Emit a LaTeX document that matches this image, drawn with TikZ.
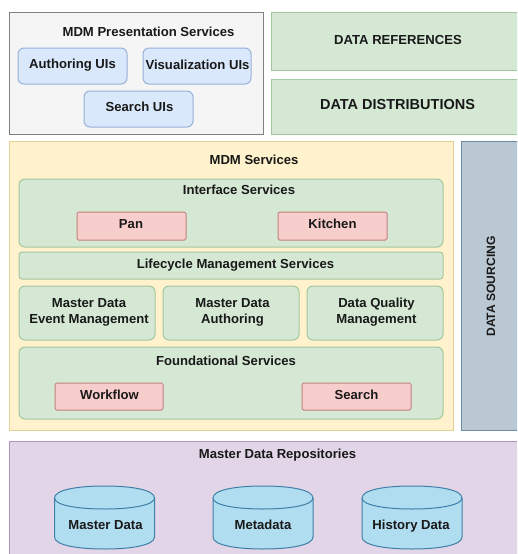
\documentclass[tikz,border=0pt]{standalone}
\usepackage{fontspec}
\setmainfont{Liberation Sans}
\definecolor{pgrey}{HTML}{F5F5F5}
\definecolor{pgreen}{HTML}{D5E8D4}
\definecolor{pgreenl}{HTML}{A3C79F}
\definecolor{pyellow}{HTML}{FFF2CC}
\definecolor{pyellowl}{HTML}{E6CF97}
\definecolor{pslate}{HTML}{BAC8D3}
\definecolor{pslatel}{HTML}{6D8AA3}
\definecolor{ppurple}{HTML}{E1D5E7}
\definecolor{ppurplel}{HTML}{AE93BC}
\definecolor{pblue}{HTML}{DAE8FC}
\definecolor{pbluel}{HTML}{97B2D6}
\definecolor{ppink}{HTML}{F8CECC}
\definecolor{ppinkl}{HTML}{C4807C}
\definecolor{pcyl}{HTML}{B1DDF0}
\definecolor{pcyll}{HTML}{3F80A8}
\tikzset{
  x=1pt,y=-1pt,
  every node/.style={font=\fontsize{13.1}{16}\selectfont\bfseries,text=black!90,align=center,inner sep=0pt},
  panel/.style={draw=#1l,line width=1pt,fill=#1},
  rpanel/.style={panel=#1,rounded corners=6pt},
  tag/.style={panel=ppink,rounded corners=1.5pt},
  cylline/.style={draw=pcyll,line width=1pt},
}
\newcommand{\cyl}[1]{%
  \path[cylline,fill=pcyl] (#1,498) -- (#1,537)
    .. controls (#1,545) and ({#1+22},549) .. ({#1+50},549)
    .. controls ({#1+78},549) and ({#1+100},545) .. ({#1+100},537) -- ({#1+100},498)
    .. controls ({#1+100},490) and ({#1+78},486) .. ({#1+50},486)
    .. controls ({#1+22},486) and (#1,490) .. (#1,498) -- cycle;
  \path[cylline] (#1,498)
    .. controls (#1,505) and ({#1+22},509) .. ({#1+50},509)
    .. controls ({#1+78},509) and ({#1+100},505) .. ({#1+100},498);}
\begin{document}
\begin{tikzpicture}
\useasboundingbox (0,0) rectangle (517,554);
\begin{scope}
\clip (0,0) rectangle (517,554);
\path[draw=black!50,line width=1pt,fill=pgrey] (9.5,12) rectangle (263,134);
\path[panel=pgreen] (271,12) rectangle (530,70.5);
\path[panel=pgreen] (271,79) rectangle (530,134);
\path[panel=pyellow] (9.5,141) rectangle (453,430);
\path[panel=pslate] (461,141) rectangle (530,430);
\path[panel=ppurple] (9.5,441) rectangle (530,570);
\end{scope}
\node (pres) at (148.5,31.5) {MDM Presentation Services};
\node (refs) at (398,40) {DATA REFERENCES};
\node[font=\fontsize{14.5}{16}\selectfont\bfseries] (dist) at (397.5,104.5) {DATA DISTRIBUTIONS};
\node (svc) at (254,160) {MDM Services};
\node[rotate=90,font=\fontsize{12.1}{15}\selectfont\bfseries] (sourcing) at (491,286.5) {DATA SOURCING};
\node (repo) at (277.5,455) {Master Data Repositories};
% UIs
\path[rpanel=pblue] (18,48) rectangle (127,84);
\node (auth) at (72.5,65) {Authoring UIs};
\path[rpanel=pblue] (143,48) rectangle (251,84);
\node (viz) at (197.5,64.5) {Visualization UIs};
\path[rpanel=pblue] (84,91) rectangle (193,127);
\node (sui) at (139.5,106.5) {Search UIs};
% Interface
\path[rpanel=pgreen] (19,179) rectangle (443,247);
\node (iface) at (239,190) {Interface Services};
\path[tag] (77,212) rectangle (186,240);
\node (pan) at (131,224) {Pan};
\path[tag] (278,212) rectangle (387,240);
\node (kit) at (332.5,224) {Kitchen};
% Lifecycle
\path[rpanel=pgreen,rounded corners=3pt] (19,252) rectangle (443,279);
\node (life) at (235.5,265) {Lifecycle Management Services};
% Three
\path[rpanel=pgreen] (19,286) rectangle (155,340);
\node (mde) at (89,312) {Master Data\\Event Management};
\path[rpanel=pgreen] (163,286) rectangle (299,340);
\node (mda) at (232.5,312) {Master Data\\Authoring};
\path[rpanel=pgreen] (307,286) rectangle (443,340);
\node (dqm) at (376.5,312) {Data Quality\\Management};
% Foundational
\path[rpanel=pgreen] (19,347) rectangle (443,419);
\node (found) at (226,361) {Foundational Services};
\path[tag] (55,383) rectangle (163,410);
\node (wf) at (109.5,395) {Workflow};
\path[tag] (302,383) rectangle (411,410);
\node (srch) at (356.5,395) {Search};
% Cylinders
\cyl{54.5}
\cyl{213}
\cyl{362}
\node (c1) at (105.5,525) {Master Data};
\node (c2) at (263,525) {Metadata};
\node (c3) at (411,526) {History Data};
\end{tikzpicture}
\end{document}
